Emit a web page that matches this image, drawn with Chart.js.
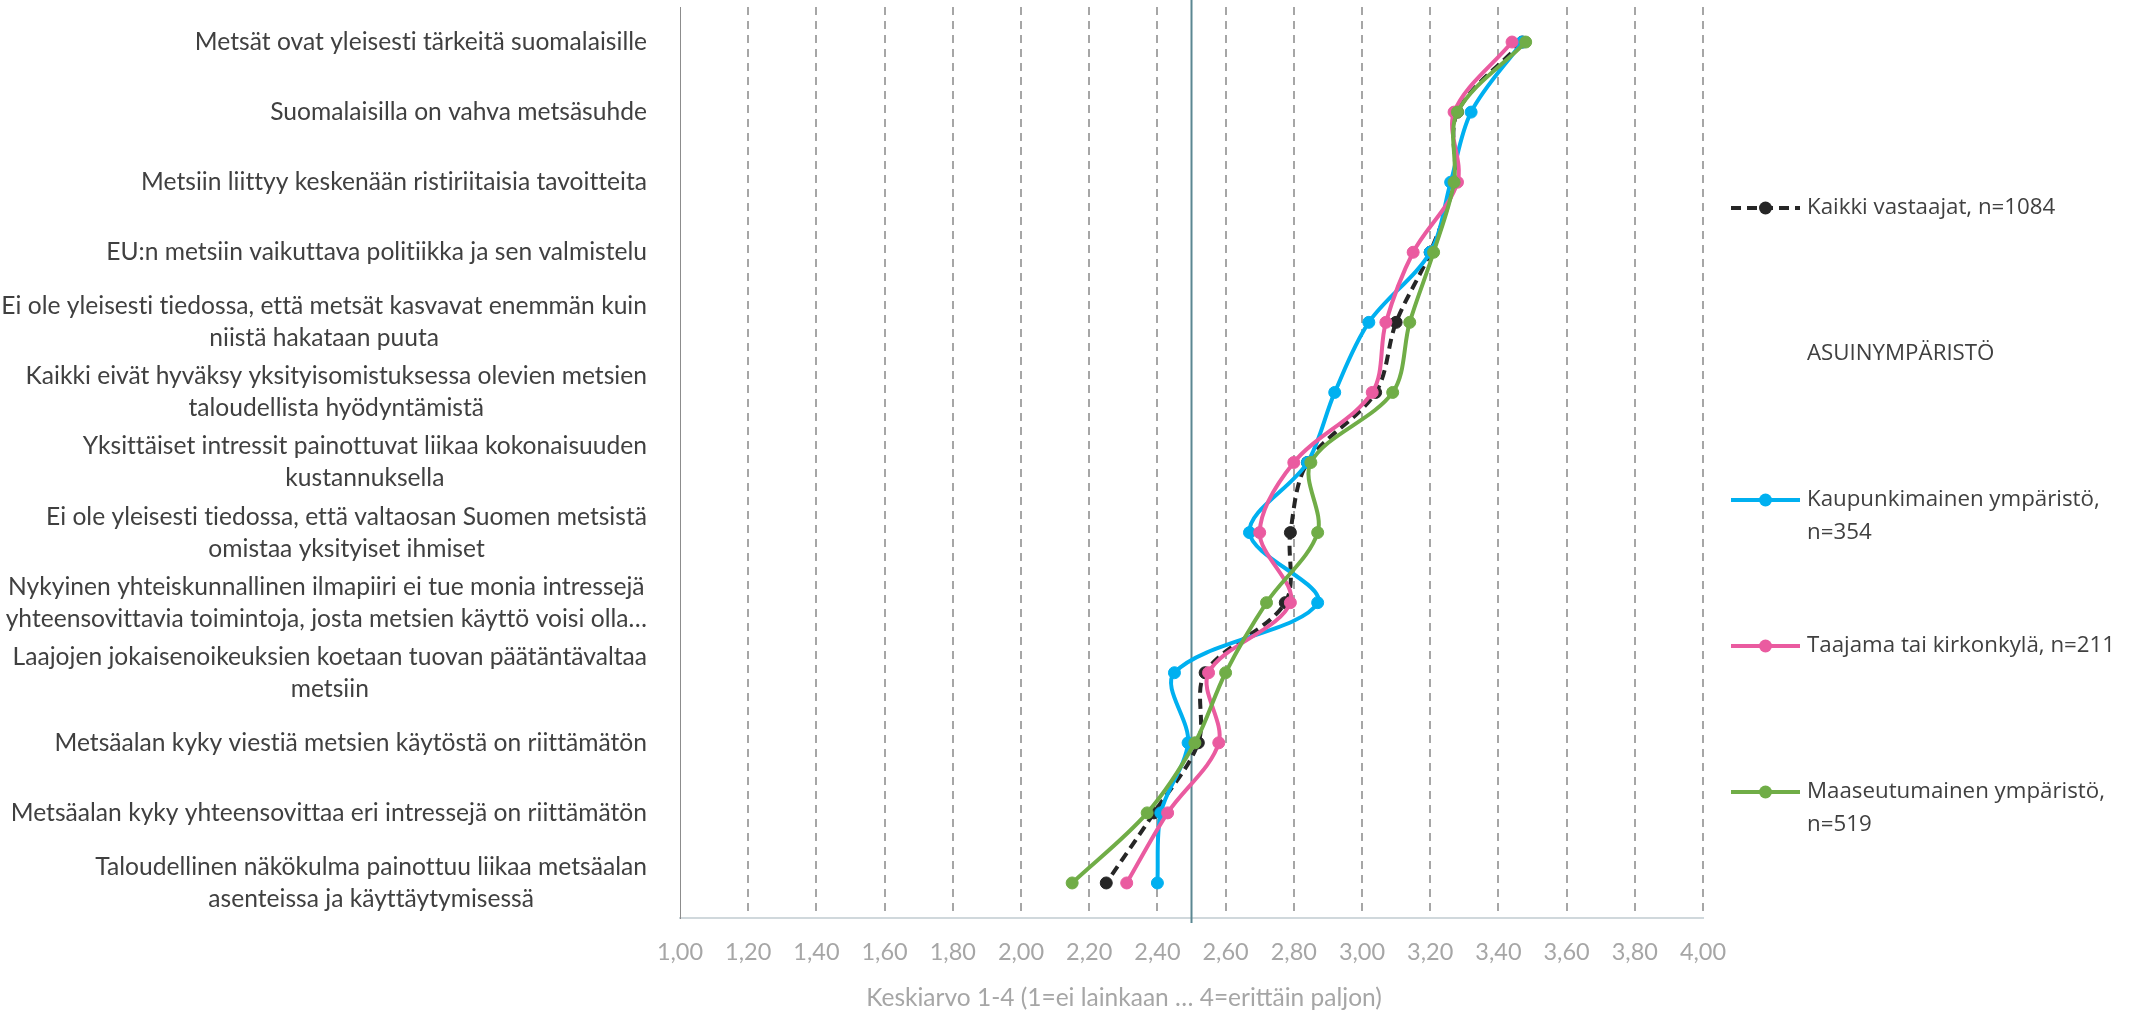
<!DOCTYPE html>
<html>
<head>
<meta charset="utf-8">
<script src="https://cdn.jsdelivr.net/npm/chart.js@4.4.1/dist/chart.umd.min.js"></script>
<style>
  html, body { margin: 0; padding: 0; background: #fff; }
  #wrap { width: 2131px; height: 1015px; position: relative; }
</style>
</head>
<body>
<div id="wrap"><canvas id="chart"></canvas></div>
<script>
"use strict";

// statements (y categories), multi-line ones as arrays
var statements = [
    "Metsät ovat yleisesti tärkeitä suomalaisille",
    "Suomalaisilla on vahva metsäsuhde",
    "Metsiin liittyy keskenään ristiriitaisia tavoitteita",
    "EU:n metsiin vaikuttava politiikka ja sen valmistelu",
    ["Ei ole yleisesti tiedossa, että metsät kasvavat enemmän kuin", "niistä hakataan puuta"],
    ["Kaikki eivät hyväksy yksityisomistuksessa olevien metsien", "taloudellista hyödyntämistä"],
    ["Yksittäiset intressit painottuvat liikaa kokonaisuuden", "kustannuksella"],
    ["Ei ole yleisesti tiedossa, että valtaosan Suomen metsistä", "omistaa yksityiset ihmiset"],
    ["Nykyinen yhteiskunnallinen ilmapiiri ei tue monia intressejä", "yhteensovittavia toimintoja, josta metsien käyttö voisi olla…"],
    ["Laajojen jokaisenoikeuksien koetaan tuovan päätäntävaltaa", "metsiin"],
    "Metsäalan kyky viestiä metsien käytöstä on riittämätön",
    "Metsäalan kyky yhteensovittaa eri intressejä on riittämätön",
    ["Taloudellinen näkökulma painottuu liikaa metsäalan", "asenteissa ja käyttäytymisessä"]
];

var allRespondents = [3.47, 3.28, 3.27, 3.20, 3.10, 3.04, 2.84, 2.79, 2.775, 2.54, 2.52, 2.39, 2.25];
var urban          = [3.47, 3.32, 3.26, 3.20, 3.02, 2.92, 2.84, 2.67, 2.87, 2.45, 2.49, 2.41, 2.40];
var town           = [3.44, 3.27, 3.28, 3.15, 3.07, 3.03, 2.80, 2.70, 2.79, 2.55, 2.58, 2.43, 2.31];
var rural          = [3.48, 3.28, 3.27, 3.21, 3.14, 3.09, 2.85, 2.87, 2.72, 2.60, 2.51, 2.37, 2.15];

var seriesNames = [
    ["Kaikki vastaajat, n=1084"],
    ["Kaupunkimainen ympäristö,", "n=354"],
    ["Taajama tai kirkonkylä, n=211"],
    ["Maaseutumainen ympäristö,", "n=519"]
];
var legendHeading = "ASUINYMPÄRISTÖ";

var xMin = 1, xMax = 4, xStep = 0.2;
var referenceValue = 2.5;
var axisTitle = "Keskiarvo 1-4 (1=ei lainkaan … 4=erittäin paljon)";

var LABEL_FONT = "24.6px Lato";
var LABEL_RIGHT = 647;
var LABEL_LINE = 32;
var LEGEND_FONT = "22.3px 'Open Sans'";

function series(name, data, color, dash, order) {
    return {
        label: name.join(" "),
        legendLines: name,
        data: data,
        borderColor: color,
        backgroundColor: color,
        pointBackgroundColor: color,
        pointBorderColor: color,
        borderWidth: 4,
        borderDash: dash,
        pointRadius: 6,
        pointBorderWidth: 1,
        tension: 0.33,
        fill: false,
        order: order
    };
}

function formatTick(v) {
    return v.toFixed(2).replace(".", ",");
}

var referenceLine = {
    id: "referenceLine",
    beforeDatasetsDraw: function (chart) {
        var ctx = chart.ctx;
        var x = chart.scales.x.getPixelForValue(referenceValue);
        ctx.save();
        ctx.strokeStyle = "#5b8792";
        ctx.lineWidth = 2;
        ctx.beginPath();
        ctx.moveTo(x, 0);
        ctx.lineTo(x, chart.chartArea.bottom + 5);
        ctx.stroke();
        ctx.restore();
    }
};

// Excel-like labels: block right aligned, lines centred inside the block
var rowLabels = {
    id: "rowLabels",
    afterDraw: function (chart) {
        var ctx = chart.ctx, yScale = chart.scales.y;
        ctx.save();
        ctx.font = LABEL_FONT;
        ctx.letterSpacing = "0.01px"; // no "ti" ligature
        ctx.fillStyle = "#404040";
        ctx.textAlign = "center";
        ctx.textBaseline = "middle";
        statements.forEach(function (label, i) {
            var lines = Array.isArray(label) ? label : [label];
            var widest = Math.max.apply(null, lines.map(function (l) { return ctx.measureText(l).width; }));
            var cx = LABEL_RIGHT - widest / 2;
            var top = yScale.getPixelForTick(i) - (lines.length - 1) * LABEL_LINE / 2;
            lines.forEach(function (line, j) {
                ctx.fillText(line, cx, top + j * LABEL_LINE);
            });
        });
        ctx.restore();
    }
};

var xTitle = {
    id: "xTitle",
    afterDraw: function (chart) {
        var ctx = chart.ctx;
        ctx.save();
        ctx.font = "24.5px Lato";
        ctx.fillStyle = "#a6a6a6";
        ctx.textAlign = "center";
        ctx.textBaseline = "middle";
        ctx.fillText(axisTitle, 1124, 998);
        ctx.restore();
    }
};

var sideLegend = {
    id: "sideLegend",
    afterDraw: function (chart) {
        var ctx = chart.ctx;
        var ds = chart.data.datasets;
        // dataset 0 first, then the heading, then the groups
        var entries = [ds[0], { heading: legendHeading }, ds[1], ds[2], ds[3]];
        var top = 208, step = 146, x0 = 1731, x1 = 1800, tx = 1807;
        ctx.save();
        ctx.font = LEGEND_FONT;
        ctx.textBaseline = "middle";
        ctx.textAlign = "left";
        entries.forEach(function (e, i) {
            var y = top + i * step;
            if (e.heading) {
                ctx.fillStyle = "#404040";
                ctx.fillText(e.heading, tx, y);
                return;
            }
            ctx.strokeStyle = e.borderColor;
            ctx.lineWidth = 4;
            ctx.setLineDash(e.borderDash || []);
            ctx.beginPath();
            ctx.moveTo(x0, y);
            ctx.lineTo(x1, y);
            ctx.stroke();
            ctx.setLineDash([]);
            ctx.fillStyle = e.borderColor;
            ctx.beginPath();
            ctx.arc((x0 + x1) / 2, y, 6.5, 0, Math.PI * 2);
            ctx.fill();
            ctx.fillStyle = "#404040";
            e.legendLines.forEach(function (line, j) {
                ctx.fillText(line, tx, y + j * 33);
            });
        });
        ctx.restore();
    }
};

var ctx = document.getElementById("chart").getContext("2d");
var chart = new Chart(ctx, {
    type: "line",
    data: {
        labels: statements.map(function (s) { return Array.isArray(s) ? s.join(" ") : s; }),
        datasets: [
            series(seriesNames[0], allRespondents, "#262626", [10, 6], 4),
            series(seriesNames[1], urban, "#00b0f0", [], 3),
            series(seriesNames[2], town, "#ea5ba0", [], 2),
            series(seriesNames[3], rural, "#70ad47", [], 1)
        ]
    },
    options: {
        indexAxis: "y",
        responsive: true,
        maintainAspectRatio: false,
        animation: false,
        layout: { padding: { top: 2, right: 428, left: 0, bottom: 0 } },
        plugins: {
            legend: { display: false },
            tooltip: { enabled: false }
        },
        scales: {
            x: {
                type: "linear",
                min: xMin,
                max: xMax,
                afterFit: function (scale) { scale.height = 97; },
                ticks: {
                    stepSize: xStep,
                    autoSkip: false,
                    maxRotation: 0,
                    padding: 20,
                    color: "#a6a6a6",
                    font: { family: "Lato", size: 23.5 },
                    callback: function (v) { return formatTick(v); }
                },
                grid: {
                    drawTicks: false,
                    lineWidth: 2,
                    color: function (c) { return c.index === 0 ? "rgba(0,0,0,0)" : "#a6a6a6"; }
                },
                border: { display: true, color: "#d0d8dc", width: 2, dash: [8, 6] }
            },
            y: {
                type: "category",
                offset: true,
                afterFit: function (scale) { scale.width = 680; },
                ticks: { display: false },
                grid: { display: false, drawTicks: false },
                border: { display: true, color: "#8c8c8c", width: 1 }
            }
        }
    },
    plugins: [referenceLine, rowLabels, xTitle, sideLegend]
});
</script>
</body>
</html>
